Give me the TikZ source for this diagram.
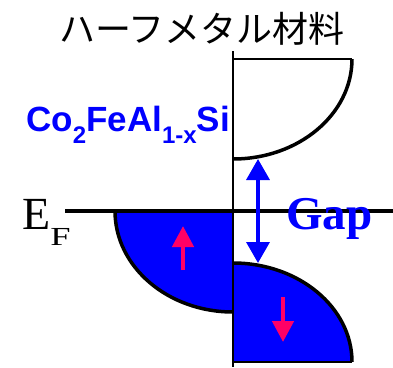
\documentclass[tikz,border=0pt]{standalone}
\usepackage{graphicx}
\usepackage{fontspec}
\setmainfont{Liberation Serif}
\setsansfont{Liberation Sans}
\newfontfamily\jpfont{Noto Sans CJK JP}
\usetikzlibrary{arrows.meta}

\begin{document}
\begin{tikzpicture}[x=1pt,y=-1pt,>=Triangle]
    \definecolor{bandblue}{HTML}{0000FF}
    \definecolor{spinred}{HTML}{FF0066}
    \tikzset{
      band/.style={line width=3.5pt,black},
      thinline/.style={line width=1.5pt,black},
      spinarrow/.style={line width=4.5pt,spinred,-{Triangle[length=21pt,width=21pt]}},
      gaparrow/.style={line width=3.5pt,bandblue,
        {Triangle[length=21pt,width=23pt]}-{Triangle[length=21pt,width=23pt]}},
      lbl/.style={inner sep=0pt,anchor=base west},
    }
    \useasboundingbox (0,0) rectangle (393,367);
    % Titel
    \node[font=\jpfont\fontsize{36}{36}\selectfont] (title) at (202,29) {ハーフメタル材料};
    % Leitungsband (Minoritaetsspin), leer
    \draw[thinline] (233,59) -- (352,59);
    \draw[band] (352,59) .. controls (352,114.2) and (298.7,159) .. (233,159);
    % Majoritaetsspin, besetzt bis E_F
    \fill[bandblue] (115,211) .. controls (115,266.8) and (167.8,312) .. (233,312)
      -- (233,211) -- cycle;
    \draw[band] (115,211) .. controls (115,266.8) and (167.8,312) .. (233,312);
    % Minoritaetsspin, Valenzband
    \fill[bandblue] (233,263) .. controls (298.7,263) and (352,307.3) .. (352,362)
      -- (233,362) -- cycle;
    \draw[band] (233,263) .. controls (298.7,263) and (352,307.3) .. (352,362);
    \draw[thinline] (233,362) -- (352,362);
    % Fermi-Niveau und Achse
    \draw[line width=3.5pt] (65,211) -- (393,211);
    \draw[thinline] (233,51) -- (233,367);
    % Bandluecke
    \coordinate (gaptop) at (258,159);
    \coordinate (gapbot) at (258,263);
    \draw[gaparrow] (gaptop) -- (gapbot);
    % Spinpfeile
    \coordinate (uptail) at (183,270);
    \coordinate (uptip) at (183,226);
    \draw[spinarrow] (uptail) -- (uptip);
    \coordinate (downtail) at (283,297);
    \coordinate (downtip) at (283,342);
    \draw[spinarrow] (downtail) -- (downtip);
    % Beschriftung
    \node[lbl,font=\sffamily\bfseries\fontsize{35}{35}\selectfont,text=bandblue] (alloy) at (26,131)
      {Co\raisebox{-12pt}{\fontsize{24}{24}\selectfont 2}FeAl\raisebox{-12pt}{\fontsize{24}{24}\selectfont 1-x}Si};
    \node[lbl,font=\fontsize{46}{46}\selectfont] (ef) at (22,229)
      {E\raisebox{-16pt}{\fontsize{26}{26}\selectfont\scalebox{1.4}[1]{F}}};
    \node[lbl,font=\bfseries\fontsize{47}{47}\selectfont,text=bandblue] (gap) at (286,229) {Gap};
\end{tikzpicture}
\end{document}
